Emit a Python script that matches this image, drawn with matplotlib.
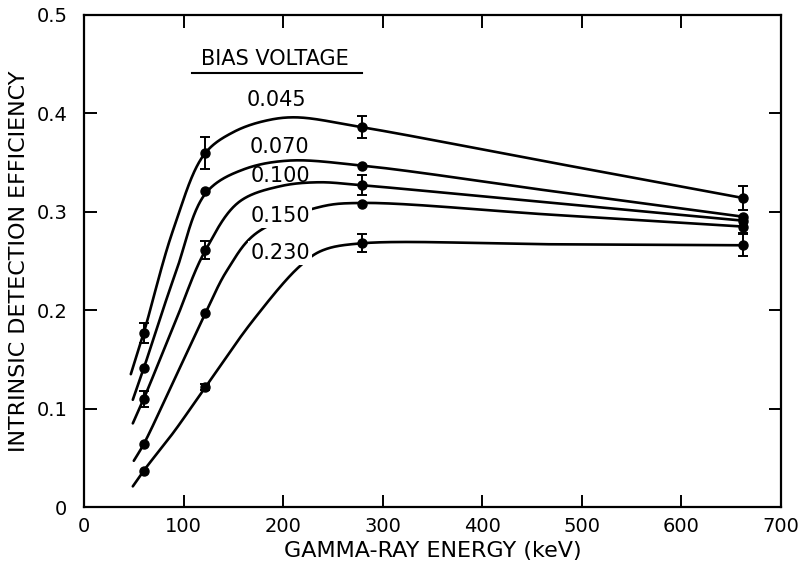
import numpy as np
import matplotlib
matplotlib.use("Agg")
import matplotlib.pyplot as plt

plt.rcParams['font.family'] = ['DejaVu Sans']

# Measured detection efficiency at the gamma-ray source energies (keV)
energies = [60, 122, 279, 662]
bias_labels = ["0.045", "0.070", "0.100", "0.150", "0.230"]

eff_045 = [0.177, 0.360, 0.386, 0.314]
eff_070 = [0.141, 0.321, 0.347, 0.295]
eff_100 = [0.110, 0.261, 0.327, 0.291]
eff_150 = [0.064, 0.197, 0.308, 0.285]
eff_230 = [0.037, 0.122, 0.268, 0.266]

err_045 = [0.010, 0.016, 0.011, 0.012]
err_070 = [0.0, 0.0, 0.0, 0.0]
err_100 = [0.008, 0.009, 0.010, 0.0]
err_150 = [0.0, 0.0, 0.0, 0.007]
err_230 = [0.0, 0.003, 0.009, 0.011]

# Hand-drawn smooth trend curves (energy, efficiency) for each bias
curve_e_045 = [47, 60, 90, 122, 150, 180, 212, 279, 470, 662]
curve_y_045 = [0.135, 0.177, 0.283, 0.360, 0.381, 0.392, 0.396, 0.386, 0.350, 0.314]
curve_e_070 = [49, 60, 92, 124, 160, 205, 279, 470, 662]
curve_y_070 = [0.109, 0.141, 0.238, 0.321, 0.343, 0.352, 0.347, 0.321, 0.295]
curve_e_100 = [49, 60, 92, 122, 157, 197, 235, 279, 470, 662]
curve_y_100 = [0.085, 0.110, 0.189, 0.261, 0.311, 0.326, 0.330, 0.327, 0.309, 0.291]
curve_e_150 = [50, 60, 90, 122, 144, 174, 237, 279, 470, 662]
curve_y_150 = [0.047, 0.064, 0.128, 0.197, 0.241, 0.279, 0.305, 0.309, 0.297, 0.285]
curve_e_230 = [49, 60, 90, 122, 170, 217, 240, 279, 470, 662]
curve_y_230 = [0.021, 0.037, 0.076, 0.122, 0.190, 0.245, 0.261, 0.268, 0.267, 0.266]

x_ticks = [0, 100, 200, 300, 400, 500, 600, 700]
y_ticks = [0, 0.1, 0.2, 0.3, 0.4, 0.5]
y_tick_labels = ["0", "0.1", "0.2", "0.3", "0.4", "0.5"]


def catmull_rom(xk, yk, xscale=700.0, yscale=0.5, alpha=0.5, steps=60):
    """Centripetal Catmull-Rom curve through the knots, on a square grid."""
    P = np.column_stack([np.asarray(xk, float) / xscale,
                         np.asarray(yk, float) / yscale])
    P = np.vstack([2 * P[0] - P[1], P, 2 * P[-1] - P[-2]])
    out = []
    for i in range(1, len(P) - 2):
        p0, p1, p2, p3 = P[i - 1], P[i], P[i + 1], P[i + 2]
        t0 = 0.0
        t1 = t0 + np.linalg.norm(p1 - p0) ** alpha
        t2 = t1 + np.linalg.norm(p2 - p1) ** alpha
        t3 = t2 + np.linalg.norm(p3 - p2) ** alpha
        t = np.linspace(t1, t2, steps)[:, None]
        a1 = (t1 - t) / (t1 - t0) * p0 + (t - t0) / (t1 - t0) * p1
        a2 = (t2 - t) / (t2 - t1) * p1 + (t - t1) / (t2 - t1) * p2
        a3 = (t3 - t) / (t3 - t2) * p2 + (t - t2) / (t3 - t2) * p3
        b1 = (t2 - t) / (t2 - t0) * a1 + (t - t0) / (t2 - t0) * a2
        b2 = (t3 - t) / (t3 - t1) * a2 + (t - t1) / (t3 - t1) * a3
        c = (t2 - t) / (t2 - t1) * b1 + (t - t1) / (t2 - t1) * b2
        out.append(c if i == 1 else c[1:])
    pts = np.vstack(out)
    return pts[:, 0] * xscale, pts[:, 1] * yscale


fig = plt.figure(figsize=(8.04, 5.66), dpi=100)
ax = fig.add_axes([0.1045, 0.1042, 0.8669, 0.8693])

series = [
    (eff_045, err_045, curve_e_045, curve_y_045),
    (eff_070, err_070, curve_e_070, curve_y_070),
    (eff_100, err_100, curve_e_100, curve_y_100),
    (eff_150, err_150, curve_e_150, curve_y_150),
    (eff_230, err_230, curve_e_230, curve_y_230),
]

for eff, err, ce, cy in series:
    cx_, cy_ = catmull_rom(ce, cy)
    ax.plot(cx_, cy_, color='black', lw=1.9, solid_capstyle='round', zorder=2)
    ax.plot(energies, eff, linestyle='none', marker='o', ms=6.5,
            color='black', zorder=4)
    for e, v, s in zip(energies, eff, err):
        if s > 0:
            ax.errorbar([e], [v], yerr=[s], fmt='none', ecolor='black',
                        elinewidth=1.4, capsize=3.5, capthick=1.4, zorder=4)

# Bias voltage annotations
label_pos = [(193, 0.414), (196, 0.366), (197, 0.336), (197, 0.296), (197, 0.258)]
for txt, (lx, ly) in zip(bias_labels, label_pos):
    boxed = txt in ("0.150", "0.230")
    ax.text(lx, ly, txt, fontsize=15, ha='center', va='center', zorder=3,
            bbox=dict(facecolor='white', edgecolor='none', pad=1.5) if boxed else None)

ax.text(192, 0.455, "BIAS VOLTAGE", fontsize=15, ha='center', va='center')
ax.plot([108, 279], [0.441, 0.441], color='black', lw=1.5)

ax.set_xlim(0, 700)
ax.set_ylim(0, 0.5)
ax.set_xticks(x_ticks)
ax.set_yticks(y_ticks)
ax.set_yticklabels(y_tick_labels)
ax.tick_params(direction='in', length=9, width=1.4, top=True, right=True,
               labelsize=14, pad=7)
ax.tick_params(axis='y', pad=12)
for sp in ax.spines.values():
    sp.set_linewidth(1.6)

ax.set_xlabel("GAMMA-RAY ENERGY (keV)", fontsize=16, labelpad=4)
ax.set_ylabel("INTRINSIC DETECTION EFFICIENCY", fontsize=16, labelpad=5)

fig.savefig("out.png", dpi=100)
